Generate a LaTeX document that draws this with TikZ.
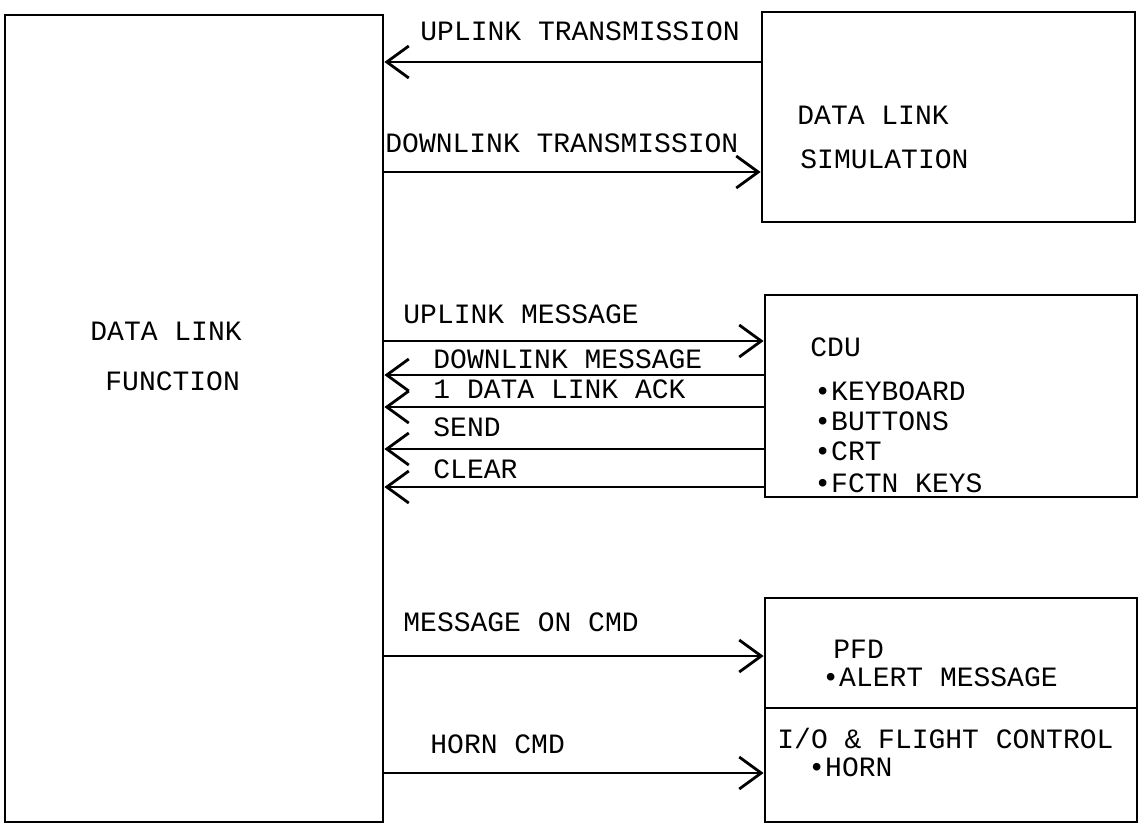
\documentclass[tikz,border=0pt]{standalone}
\usepackage{fontspec}
\setmonofont{Liberation Mono}
\usetikzlibrary{arrows.meta}
\begin{document}
\begin{tikzpicture}[
  x=0.5pt,y=-0.5pt,
  box/.style={rectangle,draw,line width=1.4pt,inner sep=0pt},
  lbl/.style={font=\ttfamily\fontsize{14}{16}\selectfont,anchor=base west,inner sep=0pt},
  arrow/.style={-{Straight Barb[length=11pt,width=16pt]},line width=1.4pt}
]
\useasboundingbox (0,0) rectangle (1144,831);
\node[box,minimum width=189pt,minimum height=403.5pt] (dlf) at (194,418.5) {};
\node[box,minimum width=186.5pt,minimum height=105pt] (dls) at (948.5,117) {};
\node[box,minimum width=186pt,minimum height=101pt] (cdu) at (951,396) {};
\node[box,minimum width=186pt,minimum height=55pt] (pfd) at (951,653) {};
\node[box,minimum width=186pt,minimum height=57pt] (io) at (951,765) {};

\node[lbl] (dlfA) at (90,340) {DATA LINK};
\node[lbl] (dlfB) at (105,390) {FUNCTION};
\node[lbl] (dlsA) at (797,124) {DATA LINK};
\node[lbl] (dlsB) at (800,168) {SIMULATION};
\node[lbl] (cduA) at (810,356) {CDU};
\node[lbl] (cduB) at (814,400) {\textbullet KEYBOARD};
\node[lbl] (cduC) at (814,430) {\textbullet BUTTONS};
\node[lbl] (cduD) at (814,460) {\textbullet CRT};
\node[lbl] (cduE) at (814,492) {\textbullet FCTN KEYS};
\node[lbl] (pfdA) at (833,658) {PFD};
\node[lbl] (pfdB) at (822,686) {\textbullet ALERT MESSAGE};
\node[lbl] (ioA) at (777,748) {I/O \& FLIGHT CONTROL};
\node[lbl] (ioB) at (808,776) {\textbullet HORN};

\node[lbl] (upTx) at (420,40) {UPLINK TRANSMISSION};
\node[lbl] (downTx) at (385,152) {DOWNLINK TRANSMISSION};
\node[lbl] (upMsg) at (403,323) {UPLINK MESSAGE};
\node[lbl] (downMsg) at (433,368) {DOWNLINK MESSAGE};
\node[lbl] (ack) at (433,398) {1 DATA LINK ACK};
\node[lbl] (send) at (433,436) {SEND};
\node[lbl] (clear) at (433,478) {CLEAR};
\node[lbl] (msgOn) at (403,631) {MESSAGE ON CMD};
\node[lbl] (horn) at (430,753) {HORN CMD};

\draw[arrow] (dls.west |- 0,62) -- (dlf.east |- 0,62);
\draw[arrow] (dlf.east |- 0,172) -- (dls.west |- 0,172);
\draw[arrow] (dlf.east |- 0,341) -- (cdu.west |- 0,341);
\foreach \y in {375,407,449,487}
  \draw[arrow] (cdu.west |- 0,\y) -- (dlf.east |- 0,\y);
\draw[arrow] (dlf.east |- 0,656) -- (pfd.west |- 0,656);
\draw[arrow] (dlf.east |- 0,773) -- (io.west |- 0,773);
\end{tikzpicture}
\end{document}
